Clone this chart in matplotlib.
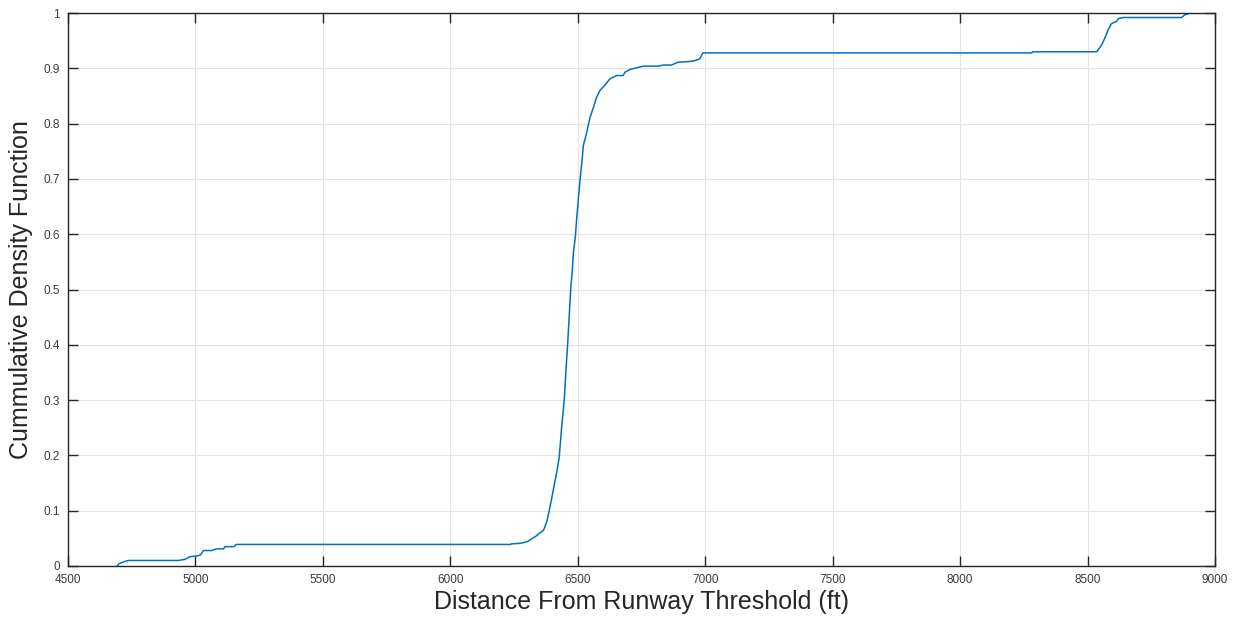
import numpy as np
import matplotlib
matplotlib.use("Agg")
import matplotlib.pyplot as plt

# CDF: distance (ft) and cumulative fraction
distance_ft = [
    4693, 4700, 4715, 4737, 4933, 4959, 4979, 5005, 5020, 5031, 5063, 5083,
    5110, 5116, 5152, 5159, 6236, 6240, 6275, 6301, 6333, 6366, 6379, 6392,
    6405, 6418, 6427, 6437, 6447, 6454, 6461, 6467, 6473, 6478, 6483, 6490,
    6496, 6503, 6509, 6516, 6522, 6533, 6548, 6561, 6574, 6587, 6607, 6626,
    6652, 6678, 6685, 6704, 6730, 6757, 6815, 6835, 6867, 6893, 6952, 6978,
    6991, 8281, 8285, 8536, 8555, 8568, 8581, 8594, 8614, 8621, 8640, 8869,
    8882, 8902,
]
cdf = [
    0.000, 0.004, 0.007, 0.010, 0.010, 0.012, 0.017, 0.018, 0.020, 0.028,
    0.028, 0.031, 0.031, 0.035, 0.035, 0.039, 0.039, 0.040, 0.041, 0.044,
    0.053, 0.065, 0.081, 0.109, 0.140, 0.171, 0.196, 0.252, 0.301, 0.357,
    0.407, 0.457, 0.506, 0.531, 0.568, 0.593, 0.630, 0.668, 0.699, 0.730,
    0.761, 0.780, 0.811, 0.829, 0.848, 0.860, 0.870, 0.881, 0.887, 0.887,
    0.893, 0.898, 0.901, 0.904, 0.904, 0.906, 0.906, 0.911, 0.913, 0.917,
    0.928, 0.928, 0.930, 0.930, 0.942, 0.955, 0.970, 0.981, 0.985, 0.990,
    0.992, 0.992, 0.997, 1.000,
]

x_ticks = [4500, 5000, 5500, 6000, 6500, 7000, 7500, 8000, 8500, 9000]
y_ticks = [0, 0.1, 0.2, 0.3, 0.4, 0.5, 0.6, 0.7, 0.8, 0.9, 1]
y_tick_labels = ["0", "0.1", "0.2", "0.3", "0.4", "0.5", "0.6", "0.7", "0.8", "0.9", "1"]

plt.rcParams['font.family'] = ['Liberation Sans', 'DejaVu Sans']
axis_color = '#262626'

fig = plt.figure(figsize=(12.39, 6.23), dpi=100)
ax = fig.add_axes([0.0549, 0.0915, 0.9257, 0.8875])

ax.plot(distance_ft, cdf, color='#0072BD', linewidth=1.1)

ax.set_xlim(4500, 9000)
ax.set_ylim(0, 1)
ax.set_xticks(x_ticks)
ax.set_xticklabels([str(t) for t in x_ticks])
ax.set_yticks(y_ticks)
ax.set_yticklabels(y_tick_labels)

ax.grid(True, color='#e3e3e3', linewidth=0.8)
ax.set_axisbelow(True)

ax.tick_params(direction='in', length=7, width=1, colors=axis_color,
               labelsize=8.5, labelcolor='#3a3a3a', top=True, right=True, pad=6)
for side in ax.spines.values():
    side.set_color(axis_color)
    side.set_linewidth(1)

ax.set_xlabel("Distance From Runway Threshold (ft)", fontsize=18, color=axis_color, labelpad=3)
ax.set_ylabel("Cummulative Density Function", fontsize=18, color=axis_color, labelpad=7)

fig.savefig("out.png", dpi=100)
